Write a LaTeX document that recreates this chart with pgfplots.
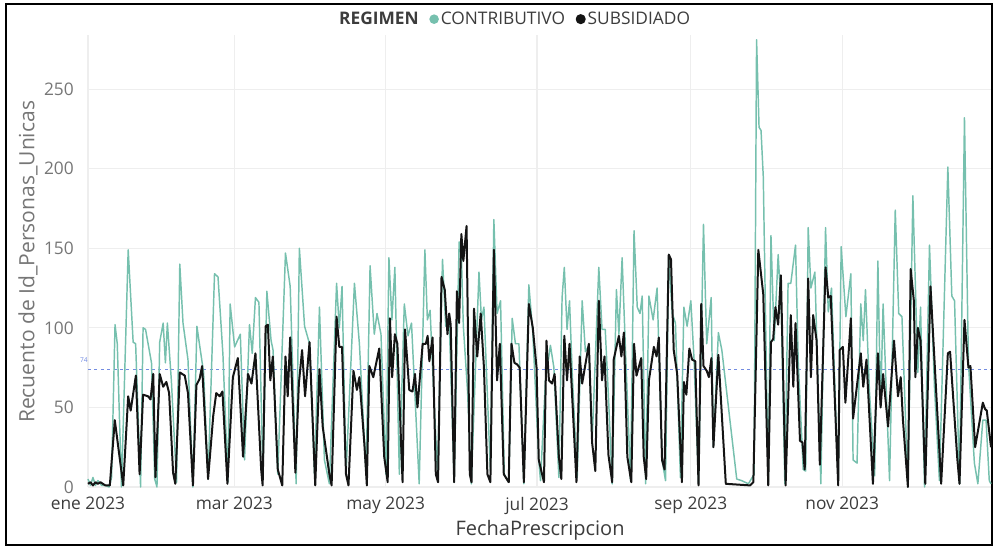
\documentclass[border=0pt]{standalone}
\usepackage{fontspec}
\setmainfont{Open Sans}
\usepackage{pgfplots}
\pgfplotsset{compat=1.18}
\definecolor{tealA}{RGB}{118,192,174}
\definecolor{blackA}{RGB}{20,20,20}
\definecolor{refblue}{RGB}{115,140,225}
\definecolor{gridc}{RGB}{238,238,238}
\definecolor{tickgray}{RGB}{118,118,118}
\definecolor{labdark}{RGB}{60,60,60}
\begin{document}
\begin{tikzpicture}[x=0.75pt,y=0.75pt]
\path[use as bounding box] (0,0) rectangle (994,548);
\draw[line width=1.6pt] (6,3) rectangle (992,544);
\begin{axis}[
  at={(66pt,45.75pt)}, anchor=south west,
  scale only axis, width=677.25pt, height=339pt,
  xmin=0, xmax=364, ymin=0, ymax=284,
  clip=false,
  axis line style={draw=none},
  major tick length=0pt,
  grid=major, grid style={gridc, line width=0.8pt},
  xtick={0,59,120,181,243,304},
  xticklabels={ene 2023,mar 2023,may 2023,jul 2023,sep 2023,nov 2023},
  ytick={0,50,100,150,200,250},
  /pgf/number format/assume math mode=true,
  yticklabel style={font=\fontsize{13}{15}\selectfont, text=tickgray, anchor=east, inner sep=0pt, xshift=-10.5pt},
  xticklabel style={font=\fontsize{13}{15}\selectfont, text=labdark, anchor=north, inner sep=0pt, yshift=-7.5pt},
  every axis y label/.style={at={(axis description cs:-0.0664,0.498)}, anchor=center, rotate=90, font=\fontsize{15.8}{18}\selectfont, text=tickgray},
  every axis x label/.style={at={(axis description cs:0.5006,-0.095)}, anchor=center, font=\fontsize{15}{18}\selectfont, text=labdark},
  ylabel={Recuento de Id\_Personas\_Unicas},
  xlabel={FechaPrescripcion},
  legend columns=-1,
  legend style={at={(axis description cs:0.472,1.035)}, anchor=center, draw=none, fill=none, inner sep=0pt,
    font=\fontsize{13}{15}\selectfont, text=labdark,
    nodes={inner sep=1pt},
    /tikz/every odd column/.append style={column sep=0.5pt},
    /tikz/every even column/.append style={column sep=7pt}},
  legend image code/.code={\fill[#1] (0pt,0pt) circle (3pt);},
]
\addlegendimage{empty legend}
\addplot[refblue, line width=0.9pt, dash pattern=on 2.2pt off 2.6pt, forget plot] coordinates {(0,74) (364,74)};
\node[anchor=south east, inner sep=0pt, font=\fontsize{5}{6}\selectfont, text=refblue] at (axis cs:0,78) {74};
\addplot[tealA, line width=1.1pt, line join=round] coordinates {
(0,5) (1,1) (2,6) (3,1) (4,4) (5.5,1) (7,1) (8.5,0) (9.5,6) (10.9,102) (11.8,90) (13.5,0) (16.2,149) (18.2,91) (19.2,90) (21.2,0) (22.2,100) (23.2,99) (25.6,78) (26.9,5) (27.8,0) (28.9,91) (30.3,103) (31.2,78) (32,103) (33.6,67) (35.7,3) (37,140) (38.3,103) (40.3,80) (42.3,0) (43.9,101) (45,89) (46.6,72) (48.4,5) (51,134) (52.4,132) (54.4,83) (56.4,3) (57.3,115) (59.1,88) (61.4,96) (63.1,17) (65.1,102) (66.2,84) (67.5,119) (68.9,116) (70.5,8) (72.1,123) (73.8,92) (74.6,86) (76.5,8) (79.6,147) (81.5,126) (83.9,2) (85.2,150) (87.3,101) (89.3,90) (91.3,8) (93.3,113) (95.3,17) (97.3,2) (100.2,128) (101.3,100) (102.4,126) (104,8) (107.4,128) (109.4,90) (112.1,8) (113.7,139) (115.4,96) (116.5,109) (118.1,96) (120.1,8) (121.3,144) (122.5,105) (123.7,138) (125.5,8) (127.5,115) (129,95) (130.4,103) (133.5,2) (135.8,149) (136.8,105) (137.9,111) (138.9,75) (140.9,8) (142.9,143) (144.2,101) (145.6,105) (147.6,3) (149.6,154) (150.5,145) (151.3,101) (153,60) (154.5,2) (157.6,135) (158.6,105) (159.6,113) (162.2,10) (163.6,168) (164.9,109) (166.3,117) (167.8,8) (169.6,3) (171,106) (172.3,90) (173.7,90) (175.7,2) (177.7,127) (179.3,97) (181.7,17) (182.4,4) (184.4,67) (186.4,89) (187.8,75) (189.8,6) (191.1,119) (192,138) (193.1,99) (194.1,117) (195.2,71) (197.2,6) (199.2,117) (200.5,85) (201.9,89) (203.2,28) (205.9,138) (207.2,99) (208.5,99) (209.9,53) (211.3,2) (213,124) (214,96) (215.3,144) (216.7,84) (218.7,4) (220.1,161) (221.4,113) (222.5,109) (223.4,120) (224.8,2) (226.1,120) (227.8,105) (229.4,125) (231.4,17) (232.8,4) (234.1,146) (235.5,109) (236.8,103) (238.8,6) (240.2,113) (241.5,101) (243,117) (244.3,80) (246.1,2) (248.1,165) (249.4,90) (251.2,119) (252.1,25) (254.1,97) (255.5,86) (261.5,5) (263.5,4) (266.2,2) (268.5,8) (269.5,281) (270.5,226) (271.3,224) (272.2,195) (274.2,2) (275.3,158) (276.6,92) (278.2,146) (279.5,110) (280.9,2) (282.2,128) (283.3,128) (285.2,152) (286.3,78) (288.3,11) (289.3,10) (290.3,163) (291.4,125) (293,135) (295.4,2) (297.3,163) (298.4,110) (299.7,125) (302.4,2) (303.6,151) (305.5,107) (307.5,134) (308.4,17) (310,15) (311.5,115) (312.5,92) (313.4,124) (315,60) (317.1,7) (318.4,142) (319.5,50) (320.5,115) (323.1,4) (325.4,174) (326.8,109) (328.1,107) (330.5,0) (332.5,183) (334.5,72) (335.6,113) (337.2,0) (339.2,152) (341.2,63) (343.2,4) (346.6,201) (348.2,120) (349.3,117) (351.3,2) (353.3,232) (354.9,78) (357.3,15) (358.7,2) (360.7,42) (362,42) (363.3,4) (364,2)
};
\addplot[blackA, line width=1.5pt, line join=round] coordinates {
(0,2) (1,3) (2,1) (3,3) (4,2) (5,3) (6,2) (7,1) (8.8,1) (10.8,42) (14.2,1) (16.2,57) (17.2,48) (19.3,70) (20.8,8) (22.2,58) (24.2,57) (25.2,55) (26.3,71) (27.2,6) (28.9,71) (30.3,63) (31.6,66) (32.7,59) (34.3,9) (35.2,2) (37,72) (39,70) (40.3,59) (42.3,1) (43.7,64) (45,68) (46,76) (48.4,5) (50.5,45) (51.7,59) (53.1,57) (54.2,60) (56.2,2) (58.4,69) (60.4,81) (62.5,19) (64.5,71) (65.9,65) (67.5,84) (69.8,11) (70.4,1) (71.6,101) (72.5,102) (73.5,67) (74.5,82) (76.5,11) (78.3,1) (79.6,82) (80.5,57) (81.5,94) (82.8,42) (83.6,9) (85,65) (86.3,86) (87.5,57) (89.3,91) (91.6,1) (93.3,74) (94.6,38) (97.3,8) (98.2,1) (100.2,107) (101.3,88) (102.4,88) (104,8) (105,1) (107,73) (108.4,61) (109.4,69) (111.4,27) (112.4,1) (113.4,76) (115,69) (117.4,87) (119.4,19) (120.8,3) (121.7,106) (122.6,69) (123.7,96) (124.7,90) (126.8,3) (127.8,99) (129.5,61) (130.8,60) (131.8,71) (132.8,50) (134.9,90) (136.2,90) (136.9,95) (137.6,79) (138.9,94) (140.2,8) (141.1,3) (142.5,132) (143.8,124) (144.9,96) (145.6,109) (146.2,102) (147.6,3) (148.7,123) (149.6,103) (150.5,159) (151.3,142) (152.6,164) (153.9,8) (154.6,3) (155.6,112) (156.9,82) (158.3,109) (159.6,75) (161,8) (162.2,3) (163.6,149) (164.9,67) (166,90) (167.6,8) (169.6,3) (170.7,90) (171.9,78) (173,77) (174,75) (175.7,3) (177.7,115) (179.3,100) (180.8,75) (181.7,17) (183.8,3) (184.8,92) (185.8,67) (187.1,65) (188.1,71) (189.8,19) (190.8,5) (192,95) (193.1,67) (194.1,90) (196.9,3) (198.2,82) (199.2,65) (201.9,90) (203.2,28) (204.5,10) (205.9,117) (207.2,67) (208.2,82) (209.8,20) (211.3,3) (211.9,80) (214,95) (215,82) (216,97) (217.4,19) (219,3) (220.1,90) (221.1,70) (223,81) (224,19) (225,5) (226.1,67) (228.1,88) (229.2,82) (230.1,94) (231.4,17) (232.4,11) (234.1,146) (235,143) (236.1,86) (237.5,71) (239.4,3) (240.2,66) (241.2,58) (242.4,87) (243.5,80) (244.8,79) (246.1,1) (247.2,115) (248.1,76) (249.4,73) (250.3,69) (251.3,81) (252.1,25) (254.1,83) (257.1,2) (266.9,1) (268.2,3) (270.2,149) (272.2,121) (274.2,1) (275.3,91) (276.2,93) (277.1,113) (278.2,102) (279.3,133) (281.2,1) (283.3,108) (284.3,63) (285.2,103) (287,29) (288,28) (288.9,11) (290.3,131) (291.4,69) (292.3,108) (293.7,92) (295,14) (297.3,138) (298.4,119) (299.4,120) (302.4,1) (303,86) (304.3,88) (305.3,53) (307.5,106) (308.4,43) (311.5,84) (312.5,63) (313.8,80) (316.4,2) (318.4,84) (319.5,50) (320.5,71) (322.5,38) (324.9,92) (326.5,57) (327.6,69) (328.5,42) (330.5,0) (331.6,137) (332.9,117) (333.5,69) (334.5,100) (335.6,92) (337.5,2) (339.6,126) (341.2,80) (343.9,2) (346.6,84) (347.5,85) (350.4,18) (351.3,2) (353.3,105) (354.9,75) (355.7,76) (357.6,25) (360.7,53) (361.6,49) (362.3,48) (364,25)
};
\legend{\textbf{REGIMEN},CONTRIBUTIVO,SUBSIDIADO}
\end{axis}
\end{tikzpicture}
\end{document}
